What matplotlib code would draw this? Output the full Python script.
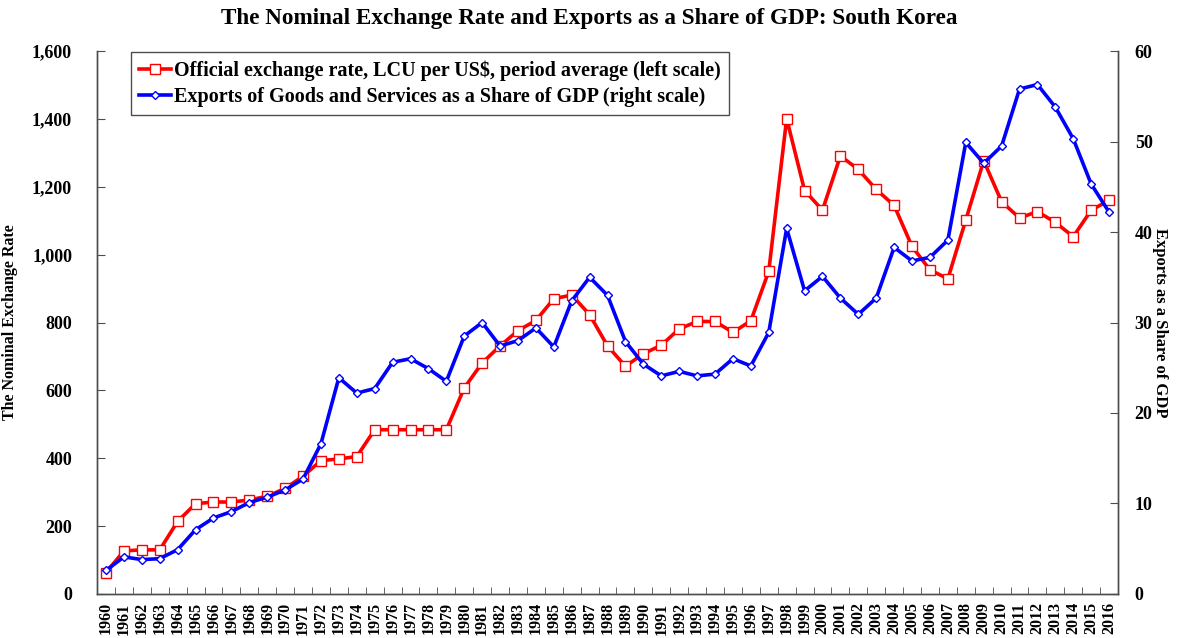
import matplotlib.pyplot as plt
import numpy as np
from matplotlib.ticker import FuncFormatter

plt.rcParams['font.family'] = ['Liberation Serif', 'DejaVu Serif']
plt.rcParams['font.weight'] = 'bold'

# Data
# ----------------------------------------------------------------------------

years = list(range(1960, 2017))

# official exchange rate, won per US$ (left scale)
rate = [
    63, 127, 130, 130, 214, 266, 271, 271, 277, 288,
    311, 347, 393, 398, 405, 484, 484, 484, 484, 484,
    607, 681, 731, 776, 806, 870, 881, 823, 731, 671,
    708, 733, 781, 803, 803, 771, 805, 951, 1401, 1189,
    1131, 1291, 1251, 1192, 1145, 1024, 955, 929, 1102, 1277,
    1156, 1108, 1127, 1095, 1053, 1131, 1160
]

# exports of goods and services, % of GDP (right scale)
exports = [
    2.6, 4.1, 3.8, 3.9, 4.9, 7.1, 8.4, 9.1, 10.1, 10.7,
    11.5, 12.7, 16.6, 23.9, 22.2, 22.7, 25.6, 26.0, 24.9, 23.5,
    28.5, 30.0, 27.4, 28.0, 29.4, 27.3, 32.4, 35.0, 33.0, 27.9,
    25.4, 24.1, 24.6, 24.1, 24.3, 26.0, 25.2, 28.9, 40.4, 33.5,
    35.1, 32.7, 30.9, 32.7, 38.3, 36.8, 37.2, 39.1, 49.9, 47.6,
    49.5, 55.8, 56.3, 53.8, 50.3, 45.3, 42.2
]

# Plot
# ----------------------------------------------------------------------------

fig = plt.figure(figsize=(11.79, 6.38), dpi=100)
ax = fig.add_axes([0.0823, 0.069, 0.866, 0.851])
ax2 = ax.twinx()

l1, = ax.plot(years, rate, color='#ff0000', lw=2.6, marker='s', ms=6.5,
              mfc='white', mec='#ff0000', mew=1.0,
              label='Official exchange rate, LCU per US$, period average (left scale)')
l2, = ax2.plot(years, exports, color='#0000ff', lw=2.6, marker='D', ms=4,
               mfc='white', mec='#0000ff', mew=1.0,
               label='Exports of Goods and Services as a Share of GDP (right scale)')

ax.set_xlim(1959.5, 2016.5)
ax.set_ylim(0, 1600)
ax2.set_ylim(0, 60)

ax.set_yticks(np.arange(0, 1601, 200))
ax.yaxis.set_major_formatter(FuncFormatter(lambda v, _: f'{v:,.0f}'))
ax2.set_yticks(np.arange(0, 61, 10))

ax.set_xticks(years)
ax.set_xticklabels([str(y) for y in years], rotation=90, fontsize=11.5)
ax.set_xticks(np.arange(1959.5, 2017, 1), minor=True)
ax.tick_params(axis='x', which='major', length=0, pad=6)
ax.tick_params(axis='x', which='minor', direction='in', length=5, color='0.3')
ax.tick_params(axis='y', direction='in', length=6, color='0.3', labelsize=13, pad=18)
ax2.tick_params(axis='y', direction='in', length=6, color='0.3', labelsize=13, pad=12)

for a in (ax, ax2):
    a.spines['top'].set_visible(False)
    for s in ('left', 'right', 'bottom'):
        a.spines[s].set_color('0.3')
        a.spines[s].set_linewidth(1.0)

ax.set_ylabel('The Nominal Exchange Rate', fontsize=11.5, fontweight='bold')
ax.yaxis.set_label_coords(-0.077, 0.5)
ax2.set_ylabel('Exports as a Share of GDP', fontsize=12, fontweight='bold',
               rotation=-90, va='center')
ax2.yaxis.set_label_coords(1.041, 0.5)

fig.text(0.5, 0.971, 'The Nominal Exchange Rate and Exports as a Share of GDP: South Korea',
         ha='center', va='center', fontsize=16.7)

leg = ax2.legend(handles=[l1, l2], loc='upper left', bbox_to_anchor=(0.032, 1.0),
                 fontsize=14.5, handlelength=1.6, handletextpad=0.15,
                 borderpad=0.4, labelspacing=0.3, fancybox=False,
                 edgecolor='0.3', framealpha=1, borderaxespad=0.05)
leg.get_frame().set_linewidth(1.0)

fig.savefig('out.png', dpi=100)
